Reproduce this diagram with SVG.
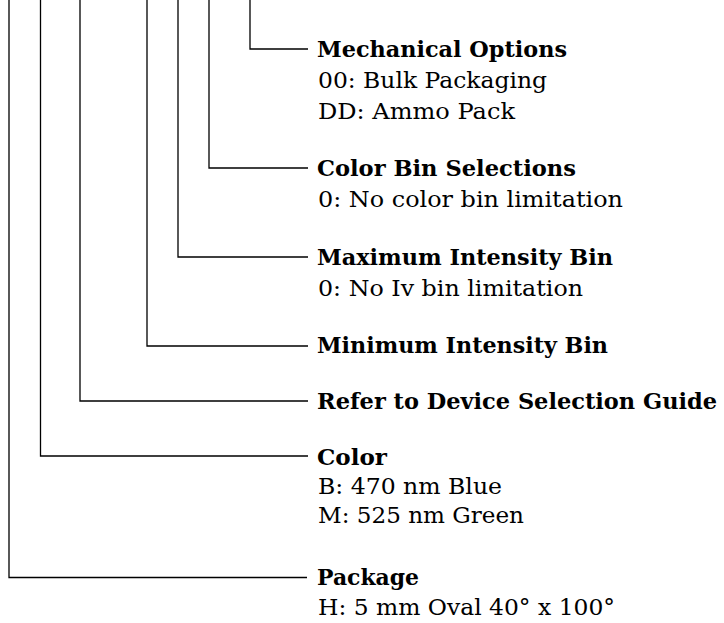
<svg xmlns="http://www.w3.org/2000/svg" width="724" height="623" viewBox="0 0 724 623">
<style>
.c{fill:none;stroke:#000;stroke-width:1.3}
.h{font-family:"DejaVu Serif","Liberation Serif",serif;font-size:21.5px;font-weight:bold;fill:#000}
.t{font-family:"DejaVu Serif","Liberation Serif",serif;font-size:22px;fill:#000}
</style>
<rect width="724" height="623" fill="#fff"/>
<g id="connectors">
<path class="c" d="M250,0V49H308"/>
<path class="c" d="M209,0V168H308"/>
<path class="c" d="M178,0V257H308"/>
<path class="c" d="M147,0V346H308"/>
<path class="c" d="M80,0V401H308"/>
<path class="c" d="M40.5,0V456H308"/>
<path class="c" d="M9,0V577.5H307"/>
</g>
<g id="mechanical"><text class="h" x="317" y="57" textLength="250" lengthAdjust="spacingAndGlyphs">Mechanical Options</text><text class="t" x="318" y="88" textLength="229" lengthAdjust="spacingAndGlyphs">00: Bulk Packaging</text><text class="t" x="318" y="119" textLength="197" lengthAdjust="spacingAndGlyphs">DD: Ammo Pack</text></g>
<g id="colorbin"><text class="h" x="317" y="176" textLength="259" lengthAdjust="spacingAndGlyphs">Color Bin Selections</text><text class="t" x="318" y="207" textLength="305" lengthAdjust="spacingAndGlyphs">0: No color bin limitation</text></g>
<g id="maxint"><text class="h" x="317" y="265" textLength="296" lengthAdjust="spacingAndGlyphs">Maximum Intensity Bin</text><text class="t" x="318" y="296" textLength="265" lengthAdjust="spacingAndGlyphs">0: No Iv bin limitation</text></g>
<g id="minint"><text class="h" x="317" y="353" textLength="291" lengthAdjust="spacingAndGlyphs">Minimum Intensity Bin</text></g>
<g id="refer"><text class="h" x="317" y="409" textLength="400" lengthAdjust="spacingAndGlyphs">Refer to Device Selection Guide</text></g>
<g id="color"><text class="h" x="317" y="465" textLength="70" lengthAdjust="spacingAndGlyphs">Color</text><text class="t" x="318" y="494" textLength="184" lengthAdjust="spacingAndGlyphs">B: 470 nm Blue</text><text class="t" x="318" y="523" textLength="206" lengthAdjust="spacingAndGlyphs">M: 525 nm Green</text></g>
<g id="package"><text class="h" x="317" y="585" textLength="102" lengthAdjust="spacingAndGlyphs">Package</text><text class="t" x="318" y="615" textLength="297" lengthAdjust="spacingAndGlyphs">H: 5 mm Oval 40° x 100°</text></g>
</svg>
